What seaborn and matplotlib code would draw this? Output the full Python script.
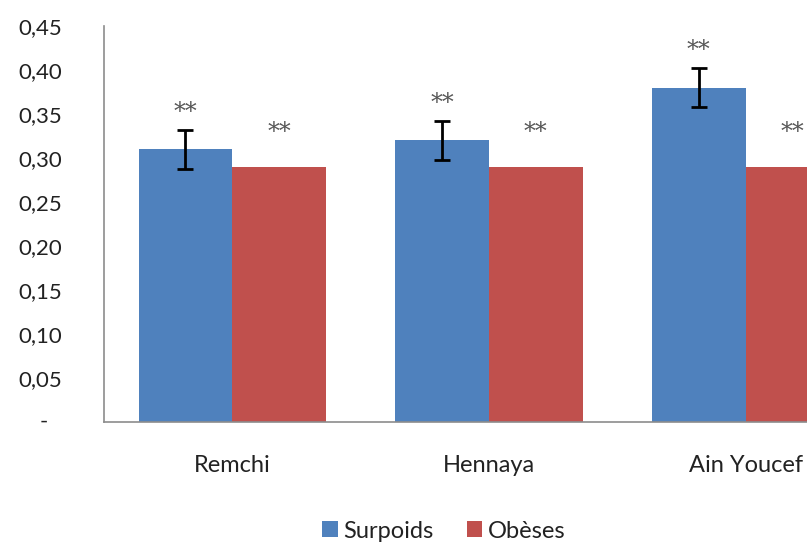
import matplotlib
matplotlib.use("Agg")
import matplotlib.pyplot as plt
import seaborn as sns
import pandas as pd
from matplotlib.patches import Patch

# Data
sites = ["Remchi", "Hennaya", "Ain Youcef"]
groups = ["Surpoids", "Obèses"]
surpoids = [0.31, 0.32, 0.38]
obeses = [0.29, 0.29, 0.29]
surpoids_err = [0.022, 0.022, 0.022]
marks = ["**", "**"]
yticks = [0.0, 0.05, 0.10, 0.15, 0.20, 0.25, 0.30, 0.35, 0.40, 0.45]
ytick_labels = ["-", "0,05", "0,10", "0,15", "0,20", "0,25", "0,30", "0,35", "0,40", "0,45"]
colors = ["#4F81BD", "#C0504D"]

df = pd.DataFrame({
    "site": sites * 2,
    "groupe": [groups[0]] * 3 + [groups[1]] * 3,
    "valeur": surpoids + obeses,
})

sns.set_style("white")
plt.rcParams["font.family"] = ["Lato", "DejaVu Sans"]

fig = plt.figure(figsize=(8.07, 5.44), dpi=100)
ax = fig.add_axes([104 / 807, 122 / 544, 770 / 807, 396 / 544])

sns.barplot(data=df, x="site", y="valeur", hue="groupe", order=sites,
            hue_order=groups, palette=colors, width=0.73, gap=0,
            errorbar=None, saturation=1, edgecolor="none", ax=ax, legend=False)

# Error bars and significance marks
blue_bars = ax.containers[0]
red_bars = ax.containers[1]
for bar, val, err in zip(blue_bars, surpoids, surpoids_err):
    xc = bar.get_x() + bar.get_width() / 2
    ax.errorbar(xc, val, yerr=err, color="black", capsize=6, capthick=2,
                elinewidth=2, fmt="none", zorder=5)
    ax.text(xc, val + err + 0.020, marks[0], ha="center", va="center",
            fontsize=17, color="#555555", family="DejaVu Serif")
for bar, val in zip(red_bars, obeses):
    xc = bar.get_x() + bar.get_width() / 2
    ax.text(xc, val + 0.039, marks[1], ha="center", va="center",
            fontsize=17, color="#555555", family="DejaVu Serif", clip_on=False)

ax.set_xlim(-0.5, 2.5)
ax.set_ylim(0, 0.45)
ax.set_yticks(yticks)
# The zero label is a dash set in from the right edge (accounting style),
# so it is written separately from the other tick labels
ax.set_yticklabels([""] + ytick_labels[1:])
ax.text(-0.078, yticks[0], ytick_labels[0], transform=ax.get_yaxis_transform(),
        ha="center", va="center", fontsize=16, color="#222222")
ax.set_xlabel("")
ax.set_ylabel("")
ax.tick_params(axis="y", length=0, pad=30, labelsize=16, labelcolor="#222222")
ax.tick_params(axis="x", length=0, pad=24, labelsize=17, labelcolor="#222222")
sns.despine(ax=ax, top=True, right=True)
for side in ["left", "bottom"]:
    ax.spines[side].set_color("#8c8c8c")
    ax.spines[side].set_linewidth(1.2)

handles = [Patch(facecolor=c, edgecolor="none") for c in colors]
fig.legend(handles, groups, loc="center", bbox_to_anchor=(444 / 807, 1 - 531 / 544),
           ncol=2, frameon=False, fontsize=17, handlelength=0.65, handleheight=0.65,
           handletextpad=0.25, columnspacing=1.4, labelcolor="#222222",
           borderpad=0)

fig.savefig("out.png", dpi=100)
